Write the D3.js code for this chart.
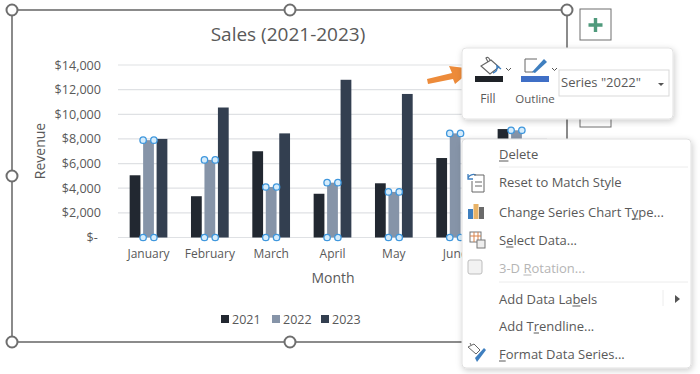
<!DOCTYPE html>
<html>
<head>
<meta charset="utf-8">
<script src="https://cdn.jsdelivr.net/npm/d3@7"></script>
<style>
  html, body { margin: 0; padding: 0; background: #fff; overflow: hidden; }
  text { font-family: "Open Sans", "Noto Sans", sans-serif; fill: #595959; }
</style>
</head>
<body>
<div id="chart-area"></div>
<script>
const months = ['January', 'February', 'March', 'April', 'May', 'June', 'July'];
const years = ['2021', '2022', '2023'];
const sales2021 = [5050, 3350, 7000, 3550, 4400, 6450, 8800];
const sales2022 = [7900, 6300, 4100, 4450, 3700, 8450, 8700];
const sales2023 = [8000, 10550, 8450, 12800, 11650, 7500, 7500];
const yTicks = [0, 2000, 4000, 6000, 8000, 10000, 12000, 14000];
const menuItems = [
  {label: 'Delete', key: 0, y: 159},
  {label: 'Reset to Match Style', key: -1, y: 187},
  {label: 'Change Series Chart Type...', key: 21, y: 217},
  {label: 'Select Data...', key: 1, y: 245},
  {label: '3-D Rotation...', key: 4, y: 273, off: true},
  {label: 'Add Data Labels', key: 11, y: 304},
  {label: 'Add Trendline...', key: 5, y: 331},
  {label: 'Format Data Series...', key: 0, y: 359}
];

const series = [sales2021, sales2022, sales2023];
const colors = ['#222831', '#8694a8', '#333f50'];

const svg = d3.select('#chart-area')
  .append('svg')
  .attr('width', 700)
  .attr('height', 374)
  .style('display', 'block');

const defs = svg.append('defs');
const shadow = defs.append('filter')
  .attr('id', 'shadow')
  .attr('x', '-10%').attr('y', '-10%')
  .attr('width', '120%').attr('height', '120%');
shadow.append('feDropShadow')
  .attr('dx', 1).attr('dy', 2)
  .attr('stdDeviation', 3)
  .attr('flood-color', '#000')
  .attr('flood-opacity', 0.2);

// X & Y Scales
const x = d3.scaleBand()
  .domain(months)
  .range([118, 547])
  .paddingInner(0.385)
  .paddingOuter(0.19);

const xGroup = d3.scaleBand()
  .domain(years)
  .range([0, x.bandwidth()])
  .paddingInner(0.2);

const y = d3.scaleLinear()
  .domain([0, 14000])
  .range([237.5, 65]);

// Chart frame
const frame = svg.append('g');
frame.append('rect')
  .attr('x', 12).attr('y', 10)
  .attr('width', 555).attr('height', 332)
  .attr('fill', '#fff')
  .attr('stroke', '#6e6e6e')
  .attr('stroke-width', 1.6);

// Gridlines
svg.append('g')
  .selectAll('line')
  .data(yTicks)
  .join('line')
  .attr('x1', 118).attr('x2', 547)
  .attr('y1', d => y(d)).attr('y2', d => y(d))
  .attr('stroke', '#dfe1e4')
  .attr('stroke-width', 1.2);

// Y axis
const yAxisCall = d3.axisLeft(y)
  .tickValues(yTicks)
  .tickSize(0)
  .tickFormat(d => d === 0 ? '$- ' : '$' + d3.format(',')(d));
const yAxisGroup = svg.append('g')
  .attr('transform', 'translate(101, 0)')
  .call(yAxisCall);
yAxisGroup.select('.domain').remove();
yAxisGroup.selectAll('text')
  .attr('x', 0)
  .attr('font-size', '12.6px')
  .style('font-family', '"Open Sans", sans-serif')
  .style('white-space', 'pre')
  .attr('fill', '#595959');

// X axis, the July label sits fully behind the context menu
const xAxisCall = d3.axisBottom(x)
  .tickValues(months.slice(0, 6))
  .tickSize(0);
const xAxisGroup = svg.append('g')
  .attr('transform', 'translate(0, 237.5)')
  .call(xAxisCall);
xAxisGroup.select('.domain').remove();
xAxisGroup.selectAll('text')
  .attr('y', 12)
  .attr('font-size', '12px')
  .style('font-family', '"Open Sans", sans-serif')
  .attr('fill', '#595959');

// Bars
years.forEach((yr, i) => {
  svg.append('g')
    .selectAll('rect')
    .data(series[i])
    .join('rect')
    .attr('x', (d, j) => x(months[j]) + xGroup(yr))
    .attr('y', d => y(d))
    .attr('width', xGroup.bandwidth())
    .attr('height', d => y(0) - y(d))
    .attr('fill', colors[i]);
});

// Selection handles on the 2022 series
const handles = [];
sales2022.forEach((d, j) => {
  const left = x(months[j]) + xGroup('2022');
  const right = left + xGroup.bandwidth();
  [left, right].forEach(px => {
    handles.push({px: px, py: y(d)});
    handles.push({px: px, py: y(0)});
  });
});
svg.append('g')
  .selectAll('circle')
  .data(handles)
  .join('circle')
  .attr('cx', d => d.px)
  .attr('cy', d => d.py)
  .attr('r', 3.2)
  .attr('fill', '#d6ecfb')
  .attr('stroke', '#3f97dd')
  .attr('stroke-width', 1.3);

// Title and axis labels
svg.append('text')
  .attr('x', 288).attr('y', 41)
  .attr('font-size', '19px')
  .attr('text-anchor', 'middle')
  .text('Sales (2021-2023)');

svg.append('text')
  .attr('x', 333).attr('y', 283)
  .attr('font-size', '14px')
  .attr('text-anchor', 'middle')
  .text('Month');

svg.append('text')
  .attr('transform', 'translate(45, 151) rotate(-90)')
  .attr('font-size', '14px')
  .attr('text-anchor', 'middle')
  .text('Revenue');

// Legend
const legendX = [221, 272, 321];
const legend = svg.append('g')
  .selectAll('g')
  .data(years)
  .join('g')
  .attr('transform', (d, i) => `translate(${legendX[i]}, 315)`);
legend.append('rect')
  .attr('width', 8).attr('height', 8)
  .attr('fill', (d, i) => colors[i]);
legend.append('text')
  .attr('x', 11).attr('y', 8.5)
  .attr('font-size', '12.5px')
  .text(d => d);

// Frame handles
const frameHandles = [[12, 10], [290, 10], [567, 10], [12, 176], [567, 176], [12, 342], [290, 342], [567, 342]];
svg.append('g')
  .selectAll('circle')
  .data(frameHandles)
  .join('circle')
  .attr('cx', d => d[0])
  .attr('cy', d => d[1])
  .attr('r', 5.5)
  .attr('fill', '#fff')
  .attr('stroke', '#6e6e6e')
  .attr('stroke-width', 2);

// Side buttons
svg.append('rect')
  .attr('x', 580).attr('y', 9).attr('width', 31).attr('height', 31)
  .attr('fill', '#fff').attr('stroke', '#6e6e6e');
svg.append('path')
  .attr('d', 'M595.5 18v14M588.5 25h14')
  .attr('stroke', '#4f9a7c').attr('stroke-width', 3.4).attr('fill', 'none');
svg.append('rect')
  .attr('x', 580).attr('y', 100).attr('width', 31).attr('height', 27)
  .attr('fill', '#fff').attr('stroke', '#6e6e6e');

// Orange arrow
svg.append('path')
  .attr('d', 'M427 79L452 73L449 66L473 69L455 84L453 79L428 84Z')
  .attr('fill', '#ed8b3a');

// Mini toolbar
svg.append('rect')
  .attr('x', 462).attr('y', 48).attr('width', 211).attr('height', 71)
  .attr('rx', 4)
  .attr('fill', '#fff').attr('stroke', '#e3e3e3')
  .attr('filter', 'url(#shadow)');

const toolbar = svg.append('g');
toolbar.append('path')
  .attr('d', 'M481 66L491 60L499 67L490 74ZM488 62L486 58Q488 56 490 60')
  .attr('fill', 'none').attr('stroke', '#666').attr('stroke-width', 1.1);
toolbar.append('path')
  .attr('d', 'M493 73Q498 71 497 66L501 69')
  .attr('fill', 'none').attr('stroke', '#3f7fbf').attr('stroke-width', 1.5);
toolbar.append('rect')
  .attr('x', 475).attr('y', 76).attr('width', 28).attr('height', 6).attr('fill', '#1e2227');
toolbar.append('path')
  .attr('d', 'M506 68l2.5 2.5l2.5-2.5M552 68l2.5 2.5l2.5-2.5')
  .attr('fill', 'none').attr('stroke', '#555').attr('stroke-width', 1);
toolbar.append('path')
  .attr('d', 'M537 59H525V72H533')
  .attr('fill', 'none').attr('stroke', '#666').attr('stroke-width', 1);
toolbar.append('path')
  .attr('d', 'M532 72L544 59L547 62L535 73Z')
  .attr('fill', '#3f7fbf');
toolbar.append('rect')
  .attr('x', 521).attr('y', 76).attr('width', 28).attr('height', 6).attr('fill', '#3f6fc6');
toolbar.append('text')
  .attr('x', 488).attr('y', 103)
  .attr('font-size', '12px').attr('text-anchor', 'middle')
  .text('Fill');
toolbar.append('text')
  .attr('x', 535).attr('y', 103)
  .attr('font-size', '11.5px').attr('text-anchor', 'middle')
  .text('Outline');
toolbar.append('rect')
  .attr('x', 559).attr('y', 70).attr('width', 110).attr('height', 26)
  .attr('fill', '#fff').attr('stroke', '#d9d9d9');
toolbar.append('text')
  .attr('x', 561).attr('y', 87)
  .attr('font-size', '13px')
  .text('Series "2022"');
toolbar.append('path')
  .attr('d', 'M658 83h6l-3 3Z')
  .attr('fill', '#555');

// Context menu
svg.append('rect')
  .attr('x', 462).attr('y', 139).attr('width', 229).attr('height', 229)
  .attr('rx', 4)
  .attr('fill', '#fff').attr('stroke', '#e0e0e0')
  .attr('filter', 'url(#shadow)');

const items = svg.append('g')
  .selectAll('text')
  .data(menuItems)
  .join('text')
  .attr('x', 499)
  .attr('y', d => d.y)
  .attr('font-size', '13px')
  .style('fill', d => d.off ? '#b5b5b5' : '#595959')
  .text(d => d.label);

// Accelerator underlines, measured from the rendered label
items.each(function(d) {
  if (d.key < 0) return;
  const box = this.getExtentOfChar(d.key);
  svg.append('line')
    .attr('x1', box.x).attr('x2', box.x + box.width)
    .attr('y1', d.y + 2).attr('y2', d.y + 2)
    .attr('stroke', d.off ? '#b5b5b5' : '#595959');
});

// Menu separators and submenu arrow
svg.append('path')
  .attr('d', 'M499 167H688M499 282H688')
  .attr('stroke', '#ececec').attr('fill', 'none');
svg.append('path')
  .attr('d', 'M663 290V306')
  .attr('stroke', '#ececec').attr('fill', 'none');
svg.append('path')
  .attr('d', 'M675 295l5 4l-5 4Z')
  .attr('fill', '#555');

// Menu icons
const icons = svg.append('g');
icons.append('path')
  .attr('d', 'M468 178a6 6 0 0 1 8-3M468 174v5h5')
  .attr('fill', 'none').attr('stroke', '#3f7fbf').attr('stroke-width', 1.3);
icons.append('path')
  .attr('d', 'M474 175H484V192H472V181M475 182h7M475 186h7')
  .attr('fill', 'none').attr('stroke', '#666');
icons.append('rect').attr('x', 468).attr('y', 209).attr('width', 5).attr('height', 10).attr('fill', '#3f7fbf');
icons.append('rect').attr('x', 473.5).attr('y', 204).attr('width', 5).attr('height', 15).attr('fill', '#e8b266');
icons.append('rect').attr('x', 479).attr('y', 207).attr('width', 5).attr('height', 12).attr('fill', '#6a6a6a');
icons.append('rect').attr('x', 470).attr('y', 232).attr('width', 11).attr('height', 10)
  .attr('fill', '#fff').attr('stroke', '#777');
icons.append('path')
  .attr('d', 'M470 236H481M474 232V242M478 232V242')
  .attr('stroke', '#d9824a').attr('fill', 'none');
icons.append('rect').attr('x', 477).attr('y', 240).attr('width', 8).attr('height', 8)
  .attr('fill', '#eee').attr('stroke', '#777');
icons.append('rect').attr('x', 468).attr('y', 260).attr('width', 14).attr('height', 14).attr('rx', 2)
  .attr('fill', '#f2f2f2').attr('stroke', '#bdbdbd');
icons.append('path')
  .attr('d', 'M468 347L474 344L480 350L476 354ZM471 345L470 343')
  .attr('fill', 'none').attr('stroke', '#666');
icons.append('path')
  .attr('d', 'M477 362L486 350L484 348L475 358Z')
  .attr('fill', '#3f7fbf');
</script>
</body>
</html>
